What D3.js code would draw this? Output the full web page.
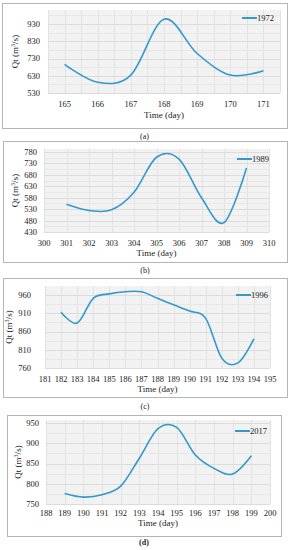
<!DOCTYPE html>
<html>
<head>
<meta charset="utf-8">
<script src="https://cdn.jsdelivr.net/npm/d3@7"></script>
<style>
  body { margin: 0; background: #fff; }
  text { font-family: "Liberation Serif", "Times New Roman", serif; fill: #222; }
</style>
</head>
<body>
<div id="chart"></div>
<script>
// series values
const days1972 = [165, 166, 167, 168, 169, 170, 171];
const qt1972 = [696, 592, 634, 958, 759, 634, 659];
const yTicks1972 = [530, 630, 730, 830, 930];

const days1989 = [301, 302, 303, 304, 305, 306, 307, 308, 309];
const qt1989 = [551, 524, 527, 604, 757, 749, 580, 471, 710];
const xTicks1989 = d3.range(300, 311);
const yTicks1989 = [430, 480, 530, 580, 630, 680, 730, 780];

const days1996 = [182, 183, 184, 185, 186, 187, 188, 189, 190, 191, 192, 193, 194];
const qt1996 = [913, 883, 951, 963, 969, 969, 951, 933, 916, 896, 787, 774, 840];
const xTicks1996 = d3.range(181, 196);
const yTicks1996 = [760, 810, 860, 910, 960];

const days2017 = [189, 190, 191, 192, 193, 194, 195, 196, 197, 198, 199];
const qt2017 = [776, 767, 773, 794, 863, 936, 939, 871, 838, 824, 869];
const xTicks2017 = d3.range(188, 201);
const yTicks2017 = [750, 800, 850, 900, 950];

const width = 289, height = 550;
const lineColor = "#3399cc";

const svg = d3.select("#chart").append("svg")
    .attr("width", width)
    .attr("height", height);

// one bordered panel per flood year
function drawPanel(p){
    let g = svg.append("g");

    g.append("rect")
        .attr("x", p.box[0] + 0.5).attr("y", p.box[1] + 0.5)
        .attr("width", p.box[2] - p.box[0]).attr("height", p.box[3] - p.box[1])
        .attr("fill", "none").attr("stroke", "#b5b5b5").attr("stroke-width", 1);

    let x;
    if (p.category) {
        x = d3.scalePoint().domain(p.days).range([p.plot.left, p.plot.right]).padding(0.5);
    } else {
        x = d3.scaleLinear().domain(d3.extent(p.xTicks)).range([p.plot.left, p.plot.right]);
    }
    let yTickTop = p.plot.yTop;
    let y = d3.scaleLinear().domain(d3.extent(p.yTicks)).range([p.plot.bottom, yTickTop]);

    g.append("rect")
        .attr("x", p.plot.left).attr("y", p.plot.top)
        .attr("width", p.plot.right - p.plot.left).attr("height", p.plot.bottom - p.plot.top)
        .attr("fill", "#f2f2f2");

    // grid
    let vLines;
    if (p.category) {
        let step = x.step();
        vLines = [];
        for (let v = p.plot.left; v <= p.plot.right + 0.1; v += step / 2) vLines.push(v);
    } else {
        vLines = p.xTicks.map(d => x(d));
    }
    g.selectAll(".vg").data(vLines).join("line")
        .attr("x1", d => Math.round(d) + 0.5).attr("x2", d => Math.round(d) + 0.5)
        .attr("y1", p.plot.top).attr("y2", p.plot.bottom)
        .attr("stroke", "#e2e2e2").attr("stroke-width", 1);

    let step = y(p.yTicks[0]) - y(p.yTicks[1]);
    let hLines = [];
    for (let v = p.plot.bottom; v >= p.plot.top - 0.1; v -= step / 2) hLines.push(v);
    g.selectAll(".hg").data(hLines).join("line")
        .attr("x1", p.plot.left).attr("x2", p.plot.right)
        .attr("y1", d => Math.round(d) + 0.5).attr("y2", d => Math.round(d) + 0.5)
        .attr("stroke", (d, i) => i % 2 === 0 ? "#dcdcdc" : "#e8e8e8").attr("stroke-width", 1);

    // y tick labels
    g.selectAll(".yt").data(p.yTicks).join("text")
        .attr("x", p.yLabelX).attr("y", d => y(d))
        .attr("dy", "0.35em")
        .attr("text-anchor", "end")
        .attr("font-size", 8.5)
        .text(d => d);

    // x tick labels
    let xt = p.category ? p.days : p.xTicks;
    g.selectAll(".xt").data(xt).join("text")
        .attr("x", d => x(d)).attr("y", p.xLabelY)
        .attr("text-anchor", "middle")
        .attr("font-size", 8.5)
        .text(d => d);

    g.append("text")
        .attr("x", (p.plot.left + p.plot.right) / 2).attr("y", p.xTitleY)
        .attr("text-anchor", "middle")
        .attr("font-size", 9)
        .text("Time (day)");

    let yt = g.append("text")
        .attr("transform", `translate(${p.yTitleX},${(p.plot.top + p.plot.bottom) / 2}) rotate(-90)`)
        .attr("text-anchor", "middle")
        .attr("font-size", 9);
    yt.append("tspan").text("Qt (m");
    yt.append("tspan").attr("font-size", 6).attr("dy", -3).text("3");
    yt.append("tspan").attr("dy", 3).text("/s)");

    // smoothed series
    let line = d3.line()
        .x((d, i) => x(p.days[i]))
        .y(d => y(d))
        .curve(d3.curveCatmullRom.alpha(0));
    g.append("path")
        .datum(p.values)
        .attr("d", line)
        .attr("fill", "none")
        .attr("stroke", lineColor)
        .attr("stroke-width", 1.6);

    // legend
    g.append("line")
        .attr("x1", p.legend[0]).attr("x2", p.legend[0] + 15)
        .attr("y1", p.legend[1]).attr("y2", p.legend[1])
        .attr("stroke", lineColor).attr("stroke-width", 2);
    g.append("text")
        .attr("x", p.legend[0] + 15).attr("y", p.legend[1])
        .attr("dy", "0.35em")
        .attr("font-size", 8.5)
        .text(p.name);

    g.append("text")
        .attr("x", (p.box[0] + p.box[2]) / 2).attr("y", p.captionY)
        .attr("text-anchor", "middle")
        .attr("font-size", 8)
        .attr("font-weight", p.boldCaption ? "bold" : "normal")
        .text(p.caption);
}

drawPanel({
    name: "1972", caption: "(a)", category: true,
    days: days1972, values: qt1972, yTicks: yTicks1972,
    box: [2, 3, 287, 128],
    plot: { left: 48, right: 280, top: 10, bottom: 93, yTop: 24 },
    yLabelX: 40, xLabelY: 107, xTitleY: 118, yTitleX: 18,
    legend: [242, 18], captionY: 139
});

drawPanel({
    name: "1989", caption: "(b)",
    days: days1989, values: qt1989, xTicks: xTicks1989, yTicks: yTicks1989,
    box: [3, 141, 287, 262],
    plot: { left: 44, right: 269, top: 149, bottom: 232, yTop: 152 },
    yLabelX: 37, xLabelY: 246, xTitleY: 256, yTitleX: 18,
    legend: [237, 159], captionY: 273
});

drawPanel({
    name: "1996", caption: "(c)",
    days: days1996, values: qt1996, xTicks: xTicks1996, yTicks: yTicks1996,
    box: [3, 278, 287, 397],
    plot: { left: 45, right: 270, top: 286, bottom: 368, yTop: 295 },
    yLabelX: 31, xLabelY: 382, xTitleY: 392, yTitleX: 12,
    legend: [236, 295], captionY: 409
});

drawPanel({
    name: "2017", caption: "(d)", boldCaption: true,
    days: days2017, values: qt2017, xTicks: xTicks2017, yTicks: yTicks2017,
    box: [7, 415, 281, 536],
    plot: { left: 46, right: 270, top: 420, bottom: 504, yTop: 423 },
    yLabelX: 39, xLabelY: 516, xTitleY: 526, yTitleX: 21,
    legend: [235, 431], captionY: 545
});
</script>
</body>
</html>
